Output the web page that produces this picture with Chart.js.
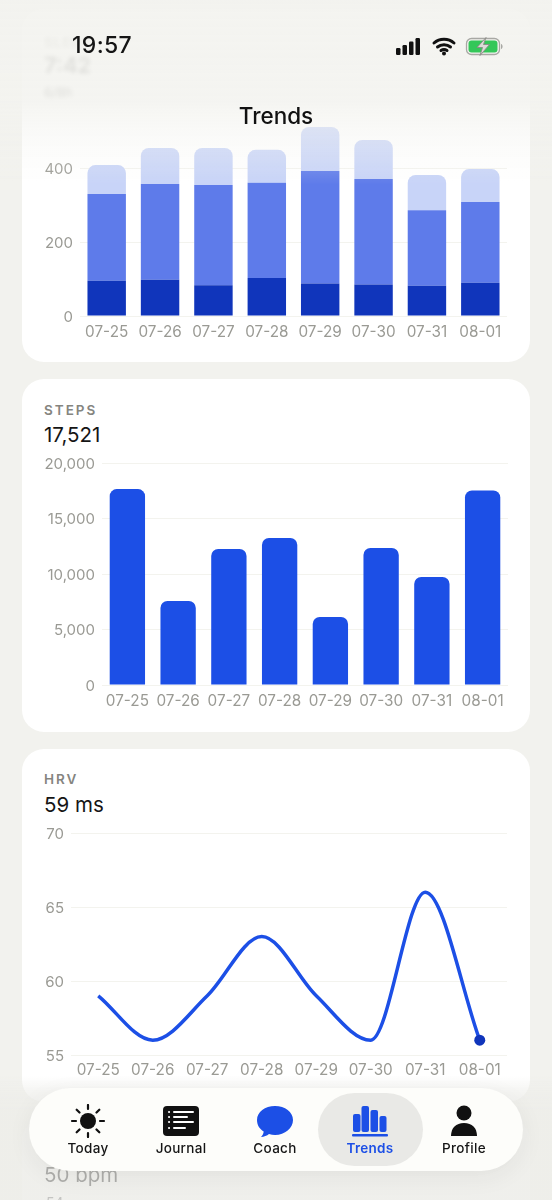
<!DOCTYPE html>
<html>
<head>
<meta charset="utf-8">
<script src="https://cdn.jsdelivr.net/npm/chart.js@4"></script>
<style>
  html, body { margin: 0; padding: 0; }
  body { width: 552px; height: 1200px; background: #f2f2ee; overflow: hidden; position: relative;
         font-family: Inter, "Noto Sans", sans-serif; color: #151515; }
  .card { position: absolute; left: 22px; width: 508px; background: #fff; border-radius: 22px; }
  canvas { position: absolute; }
  .abs { position: absolute; white-space: nowrap; }
  .label { font-size: 13.5px; font-weight: 600; letter-spacing: 2px; color: #85857f; left: 44px; }
  .value { font-size: 20.5px; left: 44px; }
  .blur { filter: blur(2px); opacity: .9; }
  #topFade { position: absolute; left: 0; top: 0; width: 552px; height: 185px;
    background: linear-gradient(to bottom, rgba(243,243,239,.93) 0, rgba(243,243,239,.88) 100px, rgba(243,243,239,.45) 130px, rgba(243,243,239,0) 185px); }
  #bottomFade { position: absolute; left: 0; top: 1076px; width: 552px; height: 124px;
    background: linear-gradient(to bottom, rgba(237,237,233,0) 0, rgba(237,237,233,.6) 16px, rgba(237,237,233,.88) 34px, rgba(237,237,233,.88) 124px); }
  #tabBar { position: absolute; left: 29px; top: 1088px; width: 494px; height: 83px; border-radius: 42px;
    background: #fdfdfa; box-shadow: 0 6px 24px rgba(0,0,0,.06); }
  #tabActive { position: absolute; left: 289px; top: 5px; width: 105px; height: 73px; border-radius: 37px; background: #e9e9e6; }
  .tab { position: absolute; top: 0; width: 100px; height: 83px; text-align: center; font-size: 13.5px; font-weight: 500; letter-spacing: .3px; }
  .tab svg { position: absolute; left: 32px; top: 16px; width: 36px; height: 34px; }
  .tab span { position: absolute; left: 0; width: 100px; top: 52px; }
</style>
</head>
<body>
  <div class="card" style="top:9px;height:353px"></div>
  <div class="card" style="top:379px;height:353px"></div>
  <div class="card" style="top:749px;height:353px"></div>
  <div class="card" style="top:1119px;height:200px"></div>

  <div class="abs label blur" style="top:34px;letter-spacing:1px">SLEEP</div>
  <div class="abs value blur" style="top:52px;font-size:22px;font-weight:600">7:42</div>
  <div class="abs blur" style="left:44px;top:84px;font-size:13px">6/8h</div>
  <canvas id="sleepChart"></canvas>

  <div class="abs label" style="top:402px">STEPS</div>
  <div class="abs value" style="top:422px">17,521</div>
  <canvas id="stepsChart"></canvas>

  <div class="abs label" style="top:771px">HRV</div>
  <div class="abs value" style="top:792px">59 ms</div>
  <canvas id="hrvChart"></canvas>

  <div id="topFade"></div>
  <div id="bottomFade"></div>

  <div class="abs value" style="top:1162px;opacity:.3">50 bpm</div>
  <div class="abs" style="left:46px;top:1194px;font-size:14px;color:#999;opacity:.5">54</div>

  <div class="abs" style="left:72px;top:31px;font-size:23px;font-weight:500;letter-spacing:.3px">19:57</div>
  <svg class="abs" style="left:395px;top:36px" width="112" height="22" viewBox="0 0 112 22">
    <rect x="1" y="12" width="4.5" height="7" rx="1.2" fill="#111"/>
    <rect x="7.5" y="9" width="4.5" height="10" rx="1.2" fill="#111"/>
    <rect x="14" y="5.5" width="4.5" height="13.5" rx="1.2" fill="#111"/>
    <rect x="20.5" y="2" width="4.5" height="17" rx="1.2" fill="#111"/>
    <path d="M39 7c5.500-5 14.500-5 20 0M42.500 11c3.500-3 9.500-3 13 0M46 14.500c1.800-1.300 4.200-1.300 6 0" fill="none" stroke="#111" stroke-width="3" stroke-linecap="round"/>
    <circle cx="49" cy="17.500" r="2" fill="#111"/>
    <rect x="71.500" y="2.500" width="33" height="16" rx="5" fill="none" stroke="#a8a8a4" stroke-width="1.300"/>
    <rect x="73.500" y="4.500" width="29" height="12" rx="3" fill="#34c759"/>
    <path d="M106 8v5c1-.3 1.600-1.300 1.600-2.500s-.6-2.200-1.600-2.500z" fill="#a8a8a4"/>
    <path d="M91 1.500l-9 10h5.500l-2.500 8 9.500-11h-6z" fill="#dcdcd8" stroke="#8a8a86" stroke-width=".9"/>
  </svg>
  <div class="abs" style="left:0;width:552px;top:102px;text-align:center;font-size:22.5px;font-weight:500;color:#111">Trends</div>

  <div id="tabBar">
    <div id="tabActive"></div>
    <div class="tab" style="left:9px">
      <svg viewBox="0 0 36 34"><circle cx="18" cy="17" r="8" fill="#111"/><g stroke="#111" stroke-width="2.200" stroke-linecap="round"><path d="M18 1v4M18 29v4M2 17h4M30 17h4M6.700 5.700l2.800 2.800M26.500 25.500l2.800 2.800M6.700 28.300l2.800-2.800M26.500 8.500l2.800-2.800"/></g></svg>
      <span>Today</span>
    </div>
    <div class="tab" style="left:102px">
      <svg viewBox="0 0 36 34"><rect x="0" y="2" width="36" height="30" rx="4" fill="#111"/><g stroke="#fff" stroke-width="2" stroke-linecap="round"><path d="M11 8h19M11 13h13M11 18h19M11 24h11M6 8h.1M6 13h.1M6 18h.1M6 24h.1"/></g></svg>
      <span>Journal</span>
    </div>
    <div class="tab" style="left:196px">
      <svg viewBox="0 0 36 34"><path d="M18 2c10 0 18 6 18 14s-8 15-18 15c-2 0-4-.3-6-.9-2 1.600-5 2.900-8 2.900 1.500-1.500 2.500-3.500 2.700-5.500C2.500 25 0 21 0 16 0 8 8 2 18 2z" fill="#1c4fe6"/></svg>
      <span>Coach</span>
    </div>
    <div class="tab" style="left:291px;color:#1c4fe6;font-weight:600">
      <svg viewBox="0 0 36 34"><g fill="#1c4fe6"><rect x="1" y="10" width="7.500" height="18" rx="2"/><rect x="9.500" y="2" width="7.500" height="26" rx="2"/><rect x="18.500" y="6" width="7.500" height="22" rx="2"/><rect x="27.500" y="12" width="7" height="16" rx="2"/><rect x="0" y="30" width="36" height="2.500" rx="1"/></g></svg>
      <span>Trends</span>
    </div>
    <div class="tab" style="left:385px">
      <svg viewBox="0 0 36 34"><circle cx="18" cy="9" r="7.500" fill="#111"/><path d="M5 32c0-8 5-13 13-13s13 5 13 13z" fill="#111"/></svg>
      <span>Profile</span>
    </div>
  </div>

<script>
const days = ['07-25', '07-26', '07-27', '07-28', '07-29', '07-30', '07-31', '08-01'];

const sleepDeep = [95, 98, 83, 103, 88, 85, 82, 90];
const sleepCore = [235, 259, 271, 257, 304, 285, 204, 218];
const sleepRem = [78, 97, 100, 89, 119, 106, 95, 89];
const sleepTicks = [0, 200, 400];

const steps = [17650, 7570, 12250, 13240, 6130, 12340, 9730, 17521];
const stepsTicks = [0, 5000, 10000, 15000, 20000];

const hrv = [59, 56, 59, 63, 59, 56, 66, 56];
const hrvTicks = [55, 60, 65, 70];

const gridColor = '#f3f3ee';
const tickColor = '#9a9a94';
const blue = '#1c4fe6';

// fixes the plot rectangle, so the cards line up with each other
function placeCanvas(id, top, height, plotLeft, plotRight, plotTop, plotBottom) {
    const canvas = document.getElementById(id);
    canvas.style.left = '22px';
    canvas.style.top = top + 'px';
    canvas.style.width = '508px';
    canvas.style.height = height + 'px';
    canvas.width = 508;
    canvas.height = height;
    return {
        yWidth: plotLeft - 22,
        xHeight: top + height - plotBottom,
        padding: { top: plotTop - top, right: 530 - plotRight, left: 0, bottom: 0 }
    };
}

function makeScales(box, ticks, min, max, stacked, xPad, format) {
    return {
        x: {
            stacked: stacked,
            offset: true,
            grid: { display: false },
            border: { display: false },
            ticks: { color: tickColor, font: { family: 'Inter', size: 15.3 }, padding: xPad, maxRotation: 0, autoSkip: false },
            afterFit(scale) { scale.height = box.xHeight; scale.paddingLeft = 0; scale.paddingRight = 0; }
        },
        y: {
            stacked: stacked,
            min: min,
            max: max,
            grid: { color: gridColor, drawTicks: false },
            border: { display: false },
            afterBuildTicks(scale) { scale.ticks = ticks.map(v => ({ value: v })); },
            ticks: { color: tickColor, font: { family: 'Inter', size: 15 }, padding: 7, labelOffset: 1, callback: format },
            afterFit(scale) { scale.width = box.yWidth; scale.paddingTop = 0; scale.paddingBottom = 0; }
        }
    };
}

const commonOptions = {
    responsive: false,
    animation: false,
    devicePixelRatio: 1,
    plugins: { legend: { display: false }, tooltip: { enabled: false } }
};

const sleepBox = placeCanvas('sleepChart', 84, 270, 80, 507, 94, 316);
new Chart(document.getElementById('sleepChart'), {
    type: 'bar',
    data: {
        labels: days,
        datasets: [
            { data: sleepDeep, backgroundColor: '#1035bb' },
            { data: sleepCore, backgroundColor: '#5e7bea' },
            { data: sleepRem, backgroundColor: '#c8d4f8', borderRadius: { topLeft: 8, topRight: 8 } }
        ]
    },
    options: { ...commonOptions, layout: { padding: sleepBox.padding },
        scales: makeScales(sleepBox, sleepTicks, 0, 600, true, -1, v => v) }
});

const stepsBox = placeCanvas('stepsChart', 453, 270, 102, 508, 463, 685);
new Chart(document.getElementById('stepsChart'), {
    type: 'bar',
    data: {
        labels: days,
        datasets: [{ data: steps, backgroundColor: blue, borderRadius: { topLeft: 7, topRight: 7 }, barPercentage: 0.87 }]
    },
    options: { ...commonOptions, layout: { padding: stepsBox.padding },
        scales: makeScales(stepsBox, stepsTicks, 0, 20000, false, -1, v => v.toLocaleString('en-US')) }
});

const hrvBox = placeCanvas('hrvChart', 823, 270, 71, 507, 833, 1055);
new Chart(document.getElementById('hrvChart'), {
    type: 'line',
    data: {
        labels: days,
        datasets: [{
            data: hrv,
            borderColor: blue,
            borderWidth: 3.5,
            cubicInterpolationMode: 'monotone',
            pointRadius: hrv.map((v, i) => i === hrv.length - 1 ? 5.5 : 0),
            pointBackgroundColor: '#1035bb',
            pointBorderWidth: 0,
            clip: false
        }]
    },
    options: { ...commonOptions, layout: { padding: hrvBox.padding },
        scales: makeScales(hrvBox, hrvTicks, 55, 70, false, -2, v => v) }
});
</script>
</body>
</html>
